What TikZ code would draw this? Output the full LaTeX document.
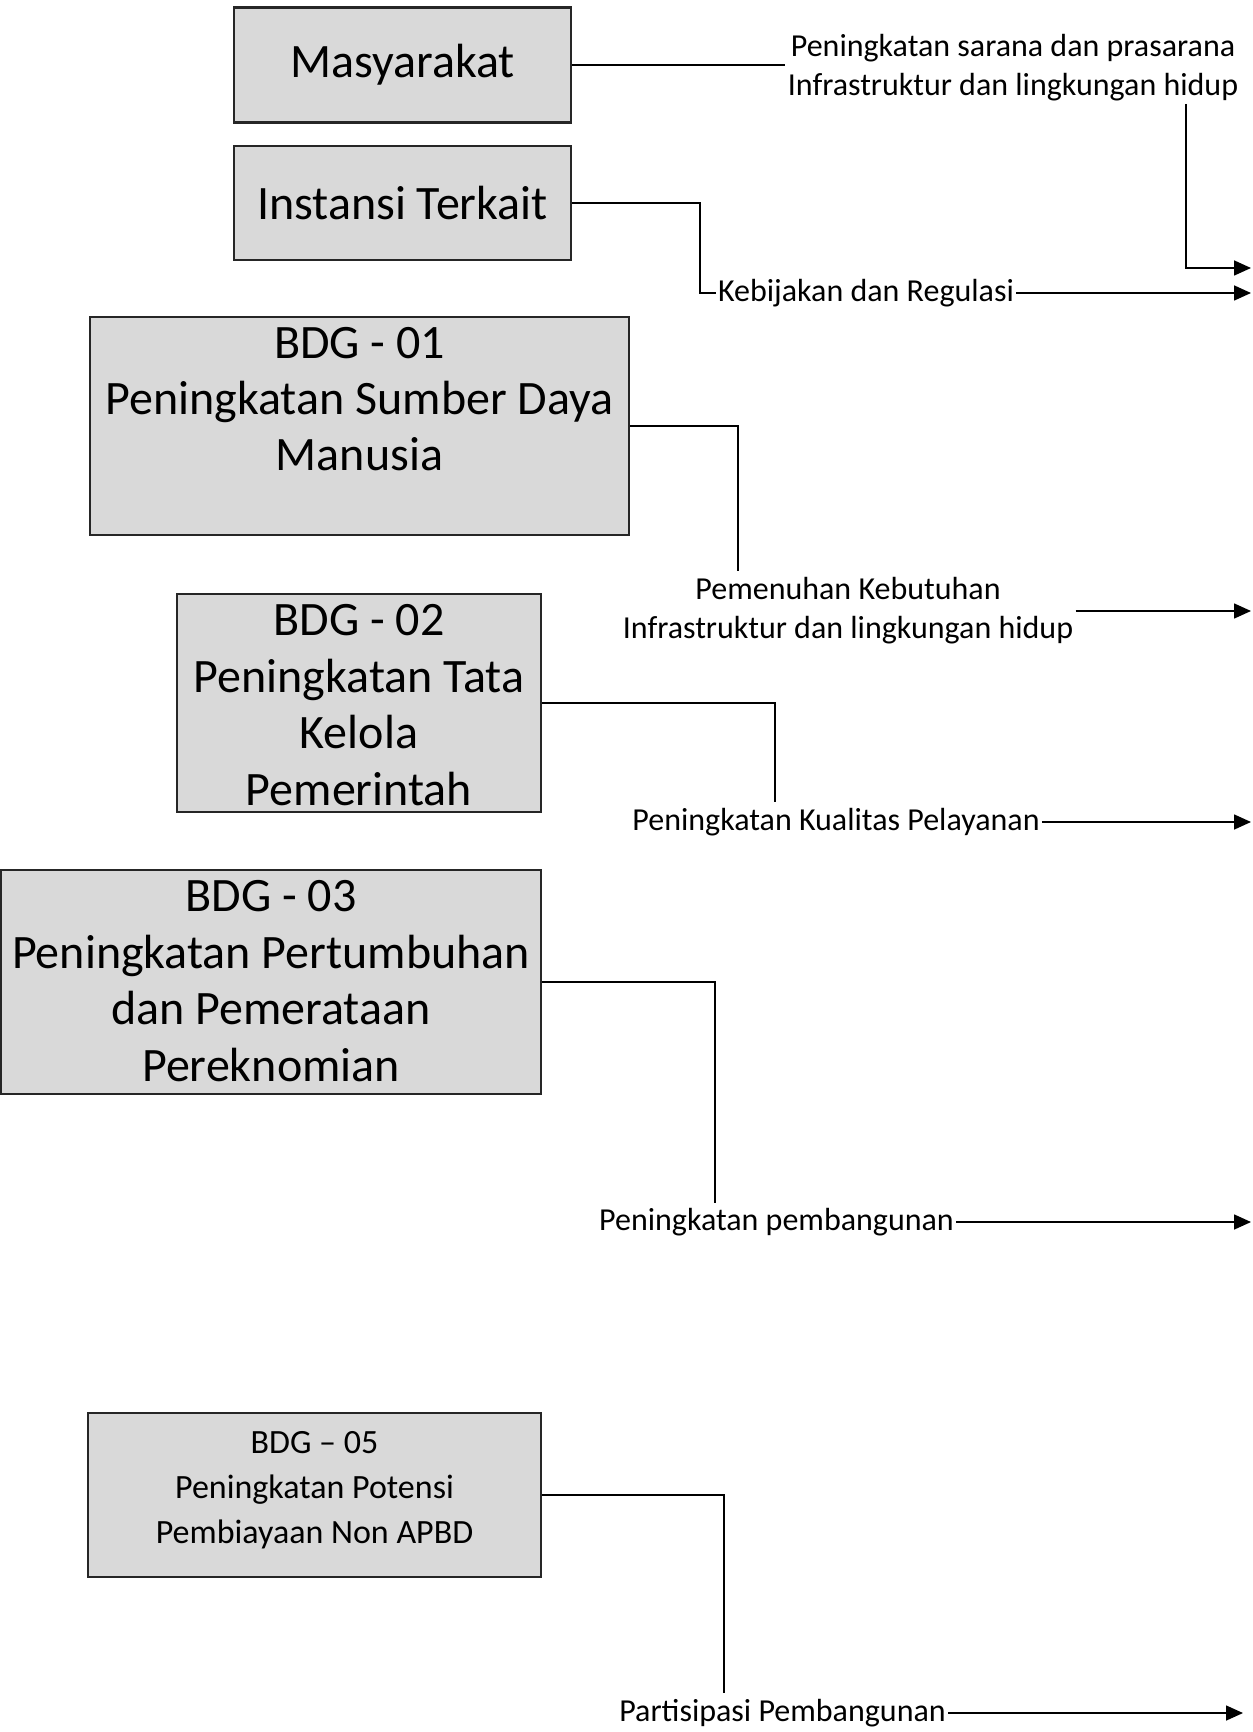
\documentclass[tikz,border=0pt]{standalone}
\usepackage{fontspec}
\setmainfont{Carlito}
\usetikzlibrary{arrows.meta}

\begin{document}
\begin{tikzpicture}[x=0.5pt, y=-0.5pt,
        box/.style = {draw=black!85, line width=1.1pt, fill=gray!30, inner sep=0pt},
        big/.style = {align=center, font=\fontsize{24}{28.2}\selectfont, inner sep=0pt},
        lbl/.style = {align=center, font=\fontsize{16}{19.5}\selectfont, inner sep=1pt},
        link/.style = {draw, line width=0.8pt},
        arr/.style = {link, -{Triangle[length=8.5pt, width=7.5pt]}}]

        \useasboundingbox (0,0) rectangle (1252,1732);
        \coordinate (rim) at (1251,0);
        \coordinate (rim2) at (1243,0);

        % Masyarakat
        \node[box, minimum width=168.5pt, minimum height=57.5pt, font=\fontsize{24}{28.2}\selectfont] (masy) at (402.5,65) {Masyarakat};
        \node[lbl] (sarana) at (1013,68) {Peningkatan sarana dan prasarana\\Infrastruktur dan lingkungan hidup};
        \coordinate (sarana-dn) at (1186,104);
        \draw[link] (masy.east) -- (masy.east -| sarana.west);
        \draw[arr] (sarana-dn) |- (1251,268);

        % Instansi Terkait
        \node[box, minimum width=168.5pt, minimum height=57pt, font=\fontsize{24}{28.2}\selectfont] (inst) at (402.5,203) {Instansi Terkait};
        \node[lbl] (regulasi) at (866,293) {Kebijakan dan Regulasi};
        \coordinate (inst-dn) at (700,293);
        \draw[link] (inst.east) -| (inst-dn) -- (regulasi.west);
        \draw[arr] (regulasi.east) -- (regulasi.east -| rim);

        % BDG - 01
        \node[box, minimum width=269.5pt, minimum height=109pt] (bdg01) at (359.5,426) {};
        \node[big, anchor=base] (bdg01-txt) at (359.5,471) {BDG - 01\\Peningkatan Sumber Daya\\Manusia};
        \node[lbl] (kebutuhan) at (848,611) {Pemenuhan Kebutuhan\\Infrastruktur dan lingkungan hidup};
        \coordinate (bdg01-dn) at (738,571);
        \draw[link] (bdg01.east) -| (bdg01-dn);
        \draw[arr] (kebutuhan.east) -- (kebutuhan.east -| rim);

        % BDG - 02
        \node[box, minimum width=182.25pt, minimum height=109pt] (bdg02) at (359,703) {};
        \node[big, anchor=base] (bdg02-txt) at (359,805) {BDG - 02\\Peningkatan Tata\\Kelola\\Pemerintah};
        \node[lbl] (kualitas) at (836,822) {Peningkatan Kualitas Pelayanan};
        \coordinate (bdg02-dn) at (775,802);
        \draw[link] (bdg02.east) -| (bdg02-dn);
        \draw[arr] (kualitas.east) -- (kualitas.east -| rim);

        % BDG - 03
        \node[box, minimum width=270pt, minimum height=112pt] (bdg03) at (271,982) {};
        \node[big, anchor=base] (bdg03-txt) at (271,1081) {BDG - 03\\Peningkatan Pertumbuhan\\dan Pemerataan\\Pereknomian};
        \node[lbl] (pembangunan) at (776.5,1222) {Peningkatan pembangunan};
        \coordinate (bdg03-dn) at (715,1203);
        \draw[link] (bdg03.east) -| (bdg03-dn);
        \draw[arr] (pembangunan.east) -- (pembangunan.east -| rim);

        % BDG - 05
        \node[box, minimum width=226.5pt, minimum height=82pt] (bdg05) at (314.5,1495) {};
        \node[align=center, font=\fontsize{17}{22.4}\selectfont, inner sep=0pt, anchor=base] (bdg05-txt) at (314.5,1543) {BDG – 05\\Peningkatan Potensi\\Pembiayaan Non APBD};
        \node[lbl] (partisipasi) at (782.5,1713) {Partisipasi Pembangunan};
        \coordinate (bdg05-dn) at (724,1693);
        \draw[link] (bdg05.east) -| (bdg05-dn);
        \draw[arr] (partisipasi.east) -- (partisipasi.east -| rim2);
    \end{tikzpicture}
\end{document}
